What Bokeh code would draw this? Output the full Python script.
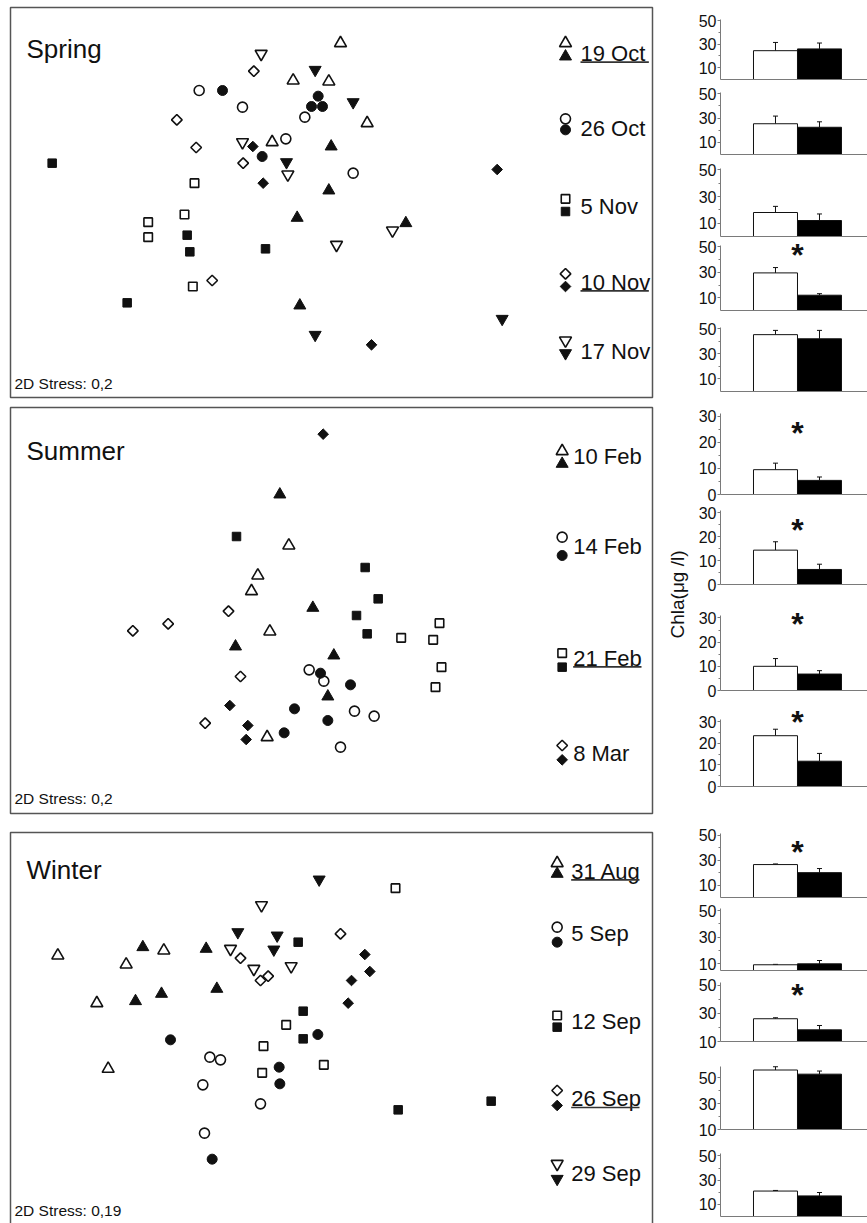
import numpy as np
from bokeh.plotting import figure
from bokeh.layouts import column, row
from bokeh.models import Range1d, FixedTicker, Label, Whisker, TeeHead, ColumnDataSource, BoxAnnotation
from bokeh.core.properties import value
from bokeh.embed import file_html
from bokeh.resources import INLINE

FONT = "Liberation Sans"
INK = "#111111"
BOX = "#555555"
AXIS = "#7a7a7a"

# ---------------- NMDS ordination points (picture units, y downward) ----------------
sp_19oct_open = [(1020, 128), (878, 240), (985, 243), (1100, 368), (815, 425)]
sp_19oct_fill = [(992, 438), (985, 570), (890, 652), (1216, 668), (898, 915)]
sp_26oct_open = [(596, 270), (726, 320), (913, 350), (856, 415), (1058, 518)]
sp_26oct_fill = [(666, 270), (953, 287), (933, 318), (966, 318), (785, 468)]
sp_5nov_open = [(582, 548), (552, 642), (443, 665), (443, 710), (577, 858)]
sp_5nov_fill = [(155, 488), (560, 704), (568, 754), (795, 745), (380, 907)]
sp_10nov_open = [(760, 212), (529, 358), (587, 441), (728, 488), (635, 840)]
sp_10nov_fill = [(757, 438), (788, 548), (1490, 507), (1113, 1033)]
sp_17nov_open = [(782, 160), (726, 425), (862, 522), (1176, 690), (1008, 733)]
sp_17nov_fill = [(944, 208), (1058, 305), (858, 485), (944, 1003), (1505, 955)]

su_10feb_open = [(865, 435), (772, 525), (753, 572), (808, 693), (800, 1010)]
su_10feb_fill = [(838, 282), (937, 622), (705, 738), (1000, 765), (982, 888)]
su_14feb_open = [(926, 808), (970, 842), (1062, 932), (1121, 947), (1020, 1040)]
su_14feb_fill = [(960, 818), (1050, 853), (882, 925), (982, 960), (851, 997)]
su_21feb_open = [(1202, 712), (1298, 718), (1317, 668), (1323, 800), (1305, 860)]
su_21feb_fill = [(708, 408), (1094, 501), (1133, 595), (1068, 645), (1100, 700)]
su_8mar_open = [(397, 691), (503, 670), (684, 632), (720, 828), (614, 968)]
su_8mar_fill = [(968, 101), (688, 915), (742, 975), (737, 1017)]

wi_31aug_open = [(172, 405), (377, 432), (490, 390), (289, 548), (323, 745)]
wi_31aug_fill = [(427, 380), (617, 385), (405, 542), (483, 520), (649, 505)]
wi_5sep_open = [(628, 710), (660, 718), (607, 793), (780, 850), (612, 938)]
wi_5sep_fill = [(510, 658), (952, 642), (836, 740), (838, 790), (635, 1016)]
wi_12sep_open = [(1185, 203), (857, 613), (789, 677), (785, 757), (970, 733)]
wi_12sep_fill = [(893, 365), (908, 572), (908, 655), (1193, 868), (1472, 842)]
wi_26sep_open = [(1020, 340), (720, 413), (803, 467), (780, 480)]
wi_26sep_fill = [(1093, 402), (1108, 453), (1053, 480), (1043, 548)]
wi_29sep_open = [(783, 254), (690, 385), (760, 445), (872, 437)]
wi_29sep_fill = [(956, 177), (712, 335), (830, 345), (820, 387)]

spring_dates = ["19 Oct", "26 Oct", "5 Nov", "10 Nov", "17 Nov"]
spring_underlined = [True, False, False, True, False]
summer_dates = ["10 Feb", "14 Feb", "21 Feb", "8 Mar"]
summer_underlined = [False, False, True, False]
winter_dates = ["31 Aug", "5 Sep", "12 Sep", "26 Sep", "29 Sep"]
winter_underlined = [True, False, False, True, False]

spring_stress = "2D Stress: 0,2"
summer_stress = "2D Stress: 0,2"
winter_stress = "2D Stress: 0,19"
y_label = "Chla(μg /l)"

# ---------------- Chl a bars (µg/l): open = white bar, filled = black bar ----------------
spring_open_mean = [24.5, 25.3, 18.0, 29.5, 45.3]
spring_open_se = [7.0, 6.3, 4.6, 4.2, 3.4]
spring_fill_mean = [26.0, 22.4, 12.0, 12.0, 42.0]
spring_fill_se = [5.0, 4.5, 4.9, 1.2, 6.7]
spring_sig = [False, False, False, True, False]

summer_open_mean = [9.5, 14.4, 10.0, 23.5]
summer_open_se = [2.5, 3.5, 3.2, 3.0]
summer_fill_mean = [5.4, 6.3, 6.8, 11.7]
summer_fill_se = [1.3, 2.2, 1.4, 3.6]
summer_sig = [True, True, True, True]

winter_open_mean = [26.5, 9.3, 26.2, 55.8, 21.0]
winter_open_se = [0.5, 0.3, 0.7, 2.5, 0.5]
winter_fill_mean = [20.0, 10.0, 18.3, 52.6, 17.0]
winter_fill_se = [3.3, 2.5, 3.1, 2.4, 2.8]
winter_sig = [True, False, True, False, False]

# ---------------- layout constants ----------------
LEFT_W = 690
RIGHT_W = 177
MARK = {
    "triangle": ("triangle", 12, 0.0),
    "circle": ("circle", 10, 0.0),
    "square": ("square", 8.5, 0.0),
    "diamond": ("square", 7.5, np.pi / 4),
    "inverted_triangle": ("inverted_triangle", 12, 0.0),
}
SHAPES = ["triangle", "circle", "square", "diamond", "inverted_triangle"]


def draw_marks(p, pts, shape, filled):
    m, s, ang = MARK[shape]
    p.scatter([a for a, b in pts], [b for a, b in pts], marker=m, size=s, angle=ang,
              fill_color=INK if filled else "white", line_color=INK,
              line_width=1.0 if filled else 1.6)


def make_panel(height, yr, box_top, box_bottom):
    # frame covers the whole canvas; panel box drawn as an annotation
    p = figure(width=LEFT_W, height=height, x_range=Range1d(0, 2070), y_range=Range1d(*yr),
               x_axis_location=None, y_axis_location=None, toolbar_location=None,
               output_backend="svg", min_border_left=0, min_border_right=0,
               min_border_top=0, min_border_bottom=0, outline_line_color=None)
    p.grid.visible = False
    p.add_layout(BoxAnnotation(left=30, right=1956, top=box_top, bottom=box_bottom,
                               fill_color=None, fill_alpha=0, line_color=BOX, line_width=1.5,
                               line_alpha=1))
    return p


def decorate(p, title, title_y, stress, stress_y, groups, dates, underlined,
             mx, tx, open_y, fill_y, text_y):
    p.text(x=[78], y=[title_y], text=[title], text_font=value(FONT), text_font_size="26px",
           text_baseline="alphabetic", text_align="left", text_color=INK)
    p.text(x=[42], y=[stress_y], text=[stress], text_font=value(FONT), text_font_size="15.5px",
           text_baseline="alphabetic", text_align="left", text_color=INK)
    for i, (op, fp) in enumerate(groups):
        draw_marks(p, op, SHAPES[i], False)
        draw_marks(p, fp, SHAPES[i], True)
    for i, d in enumerate(dates):
        draw_marks(p, [(mx, open_y[i])], SHAPES[i], False)
        draw_marks(p, [(mx, fill_y[i])], SHAPES[i], True)
        p.text(x=[tx], y=[text_y[i]], text=[d], text_font=value(FONT), text_font_size="22px",
               text_baseline="middle", text_align="left", text_color=INK)
        if underlined[i]:
            p.segment(x0=[tx], y0=[text_y[i] + 26], x1=[tx + 205], y1=[text_y[i] + 26],
                      line_color="#333333", line_width=1.6)


# Spring panel
p_sp = make_panel(402, (1206, 0), 21, 1191)
decorate(p_sp, "Spring", 145, spring_stress, 1148,
         [(sp_19oct_open, sp_19oct_fill), (sp_26oct_open, sp_26oct_fill), (sp_5nov_open, sp_5nov_fill),
          (sp_10nov_open, sp_10nov_fill), (sp_17nov_open, sp_17nov_fill)],
         spring_dates, spring_underlined, 1695, 1740,
         [128, 355, 595, 820, 1020], [168, 388, 633, 858, 1058], [159, 384, 617, 845, 1052])

# Summer panel
p_su = make_panel(420, (1266, 6), 21, 1239)
decorate(p_su, "Summer", 150, summer_stress, 1195,
         [(su_10feb_open, su_10feb_fill), (su_14feb_open, su_14feb_fill), (su_21feb_open, su_21feb_fill),
          (su_8mar_open, su_8mar_fill)],
         summer_dates, summer_underlined, 1685, 1718,
         [152, 410, 758, 1035], [190, 465, 800, 1078], [168, 438, 773, 1060])
p_su.text(x=[2031], y=[582], text=[y_label], angle=np.pi / 2, text_align="center",
          text_baseline="middle", text_font=value(FONT), text_font_size="19px", text_color=INK)

# Winter panel (box continues below the page)
p_wi = make_panel(401, (1209, 6), 36, 1400)
decorate(p_wi, "Winter", 147, winter_stress, 1170,
         [(wi_31aug_open, wi_31aug_fill), (wi_5sep_open, wi_5sep_fill), (wi_12sep_open, wi_12sep_fill),
          (wi_26sep_open, wi_26sep_fill), (wi_29sep_open, wi_29sep_fill)],
         winter_dates, winter_underlined, 1670, 1712,
         [128, 320, 585, 810, 1030], [160, 365, 620, 855, 1075], [152, 340, 602, 835, 1060])

left = column(p_sp, p_su, p_wi)

# ---------------- bar charts ----------------
frames = [(19, 79), (92, 154), (168, 236), (245, 310), (327, 391),
          (413, 494), (510, 584), (615, 690), (719, 786),
          (833, 897), (908, 970), (982, 1041), (1066, 1129), (1153, 1216)]
bottom_pad = [2, 2, 1, 2, 2, 9, 9, 9, 9, 2, 2, 10, 10, 7]
yranges = [(0, 51)] * 5 + [(0, 31)] * 4 + [(0, 51.5), (5, 51.5), (10, 52), (10, 58.5), (0, 52)]
star_y = [None, None, None, 46, None, 24.6, 23.9, 28.7, 31.1, 39.3, None, 45.2, None, None]

open_mean = spring_open_mean + summer_open_mean + winter_open_mean
open_se = spring_open_se + summer_open_se + winter_open_se
fill_mean = spring_fill_mean + summer_fill_mean + winter_fill_mean
fill_se = spring_fill_se + summer_fill_se + winter_fill_se
sig = spring_sig + summer_sig + winter_sig

tops = [frames[0][0]]
for i in range(len(frames) - 1):
    tops.append(frames[i + 1][0] - frames[i][1] - bottom_pad[i])

bar_figs = []
for i, (ft, fb) in enumerate(frames):
    y0, y1 = yranges[i]
    scale = (y1 - y0) / (fb - ft)          # data units per pixel
    y_top = y1 + tops[i] * scale           # frame reaches the canvas top; axis line stops at y1
    h = fb - ft + tops[i] + bottom_pad[i]
    p = figure(width=RIGHT_W, height=h, x_range=Range1d(-1.25, 2.091), y_range=Range1d(y0, y_top),
               toolbar_location=None, output_backend="svg", min_border_left=30, min_border_right=0,
               min_border_top=0, min_border_bottom=bottom_pad[i], outline_line_color=None)
    p.grid.visible = False
    summer = 5 <= i <= 8
    p.yaxis.bounds = (y0, y1)
    p.yaxis.ticker = FixedTicker(ticks=[0, 10, 20, 30] if summer else [10, 30, 50],
                                 minor_ticks=[5, 15, 25] if summer else [20, 40])
    p.yaxis.axis_line_color = AXIS
    p.yaxis.major_tick_line_color = AXIS
    p.yaxis.minor_tick_line_color = AXIS
    p.yaxis.major_tick_out = 3
    p.yaxis.major_tick_in = 0
    p.yaxis.minor_tick_out = 2
    p.yaxis.minor_tick_in = 0
    p.yaxis.major_label_standoff = 1
    p.yaxis.major_label_text_font = FONT
    p.yaxis.major_label_text_font_size = "16px"
    p.yaxis.major_label_text_color = INK
    p.xaxis.ticker = FixedTicker(ticks=[])
    p.xaxis.major_tick_out = 0
    p.xaxis.major_tick_in = 0
    p.xaxis.minor_tick_out = 0
    p.xaxis.minor_tick_in = 0
    p.xaxis.major_label_standoff = 0
    p.xaxis.major_label_text_font_size = "0px"
    p.xaxis.axis_line_color = AXIS

    p.vbar(x=[0, 1], top=[open_mean[i], fill_mean[i]], bottom=y0, width=1,
           fill_color=["white", "black"], line_color=INK, line_width=1)
    src = ColumnDataSource(dict(base=[0, 1], lo=[open_mean[i], fill_mean[i]],
                                hi=[open_mean[i] + open_se[i], fill_mean[i] + fill_se[i]]))
    p.add_layout(Whisker(base="base", lower="lo", upper="hi", source=src, line_color=INK, line_width=1,
                         upper_head=TeeHead(size=5, line_color=INK, line_width=1), lower_head=None))
    if sig[i]:
        p.add_layout(Label(x=0.5, y=star_y[i], text="*", text_align="center", text_baseline="middle",
                           y_offset=-3, text_font=FONT, text_font_style="bold",
                           text_font_size="32px", text_color=INK))
    bar_figs.append(p)

right = column(*bar_figs)
layout = row(left, right)

open("out.html", "w").write(file_html(layout, INLINE))
